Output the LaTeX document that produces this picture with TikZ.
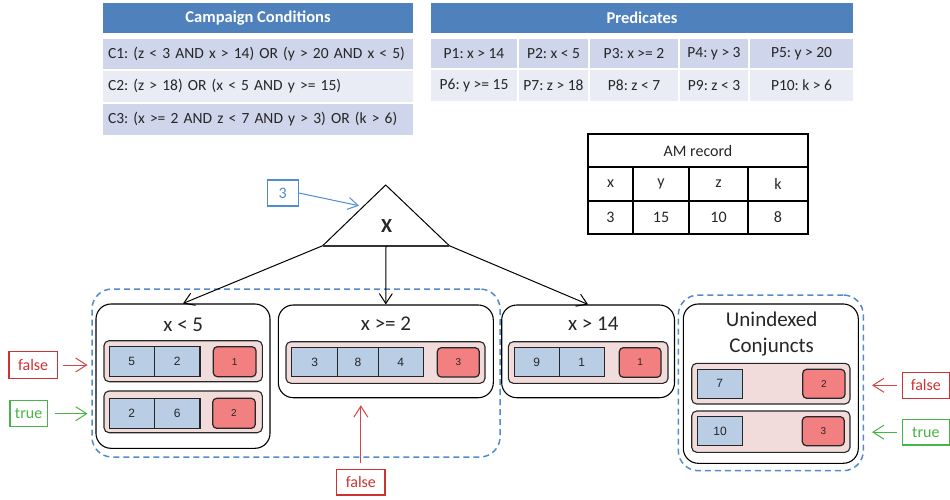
\documentclass[tikz,border=0pt]{standalone}
\usepackage{fontspec}
\setmainfont{Carlito}
\newfontfamily\arialfont{Liberation Sans}
\usetikzlibrary{arrows.meta,calc}
\frenchspacing

\definecolor{hdrblue}{RGB}{79,129,189}
\definecolor{rowdark}{RGB}{207,213,234}
\definecolor{rowlight}{RGB}{233,235,245}
\definecolor{txtgray}{RGB}{38,38,38}
\definecolor{stripfill}{RGB}{242,220,219}
\definecolor{slotblue}{RGB}{185,205,229}
\definecolor{flagred}{RGB}{242,128,128}
\definecolor{dashblue}{RGB}{85,138,200}
\definecolor{falsered}{RGB}{204,51,51}
\definecolor{truegreen}{RGB}{70,180,70}
\definecolor{valblue}{RGB}{80,140,210}

% rectangular node given by its two corners: name, x1, y1, x2, y2, style, text
\newcommand\drawcell[7]{%
  \node[inner sep=0pt, #6, minimum width={(#4)-(#2)}, minimum height={(#5)-(#3)}]
    (#1) at ({((#2)+(#4))/2},{((#3)+(#5))/2}) {#7};}

\tikzset{
  hdr/.style={fill=hdrblue, text=white, font=\fontsize{16.5}{19}\selectfont\bfseries},
  rowA/.style={fill=rowdark, text=txtgray, font=\fontsize{15.5}{18}\selectfont},
  rowB/.style={fill=rowlight, text=txtgray, font=\fontsize{15.5}{18}\selectfont},
  leftcell/.style={text width={#1}, align=left},
  amcell/.style={draw=black, line width=2pt, text=txtgray, font=\fontsize{16}{19}\selectfont},
  card/.style={draw=black, line width=1.1pt, fill=white, rounded corners=15pt},
  group/.style={draw=dashblue, line width=1.5pt, dash pattern=on 6pt off 4pt, rounded corners=20pt},
  strip/.style={draw=black!85, line width=1.1pt, fill=stripfill, rounded corners=5pt},
  slot/.style={draw=black!85, line width=1.2pt, fill=slotblue, text=txtgray, font=\arialfont\fontsize{12}{14}\selectfont},
  flag/.style={draw=black!85, line width=1.2pt, fill=flagred, rounded corners=4pt, text=txtgray, font=\arialfont\fontsize{10}{12}\selectfont},
  cardtitle/.style={text=black!85, font=\fontsize{21}{26}\selectfont, align=center},
  falsebox/.style={draw=falsered, line width=1.1pt, text=falsered, font=\fontsize{16}{18}\selectfont},
  truebox/.style={draw=truegreen, line width=1.1pt, text=truegreen, font=\fontsize{16}{18}\selectfont},
  treearrow/.style={line width=1pt, -{Straight Barb[length=10pt,width=13pt]}},
  sigarrow/.style={line width=1pt, -{Straight Barb[length=11pt,width=14pt]}},
}

\begin{document}
\begin{tikzpicture}[x=1pt, y=-1pt]
\useasboundingbox (0,0) rectangle (950,499);

% ---- campaign conditions table
\drawcell{cch}{103}{3}{413}{33}{hdr}{Campaign Conditions}
\drawcell{cc1}{103}{39}{413}{69}{rowA, leftcell=300pt}{C1: (z < 3 AND x > 14) OR (y > 20 AND x < 5)}
\drawcell{cc2}{103}{71}{413}{102}{rowB, leftcell=300pt}{C2: (z > 18) OR (x < 5 AND y >= 15)}
\drawcell{cc3}{103}{104}{413}{135}{rowA, leftcell=300pt}{C3: (x >= 2 AND z < 7 AND y > 3) OR (k > 6)}

% ---- predicates table
\drawcell{prh}{431}{3}{853}{33}{hdr}{Predicates}
\drawcell{p1}{431}{39}{517}{68}{rowA}{P1: x > 14}
\drawcell{p2}{519}{39}{588}{68}{rowA}{P2: x < 5}
\drawcell{p3}{590}{39}{678}{68}{rowA}{P3: x >= 2}
\drawcell{p4}{680}{39}{748}{68}{rowA}{P4: y > 3}
\drawcell{p5}{750}{39}{853}{68}{rowA}{P5: y > 20}
\drawcell{p6}{431}{70}{517}{101}{rowB}{P6: y >= 15}
\drawcell{p7}{519}{70}{588}{101}{rowB}{P7: z > 18}
\drawcell{p8}{590}{70}{678}{101}{rowB}{P8: z < 7}
\drawcell{p9}{680}{70}{748}{101}{rowB}{P9: z < 3}
\drawcell{p10}{750}{70}{853}{101}{rowB}{P10: k > 6}

% ---- AM record
\drawcell{amh}{588}{134}{808}{167}{amcell}{AM record}
\drawcell{amx}{588}{167}{633}{201}{amcell}{x}
\drawcell{amy}{633}{167}{689}{201}{amcell}{y}
\drawcell{amz}{689}{167}{748}{201}{amcell}{z}
\drawcell{amk}{748}{167}{808}{201}{amcell}{k}
\drawcell{amxv}{588}{201}{633}{234}{amcell}{3}
\drawcell{amyv}{633}{201}{689}{234}{amcell}{15}
\drawcell{amzv}{689}{201}{748}{234}{amcell}{10}
\drawcell{amkv}{748}{201}{808}{234}{amcell}{8}

% ---- index tree root
\coordinate (tA) at (385.7,185);
\coordinate (tL) at (322.7,245.7);
\coordinate (tR) at (449.3,245.7);
\coordinate (tM) at ($(tL)!0.5!(tR)$);
\coordinate (tP) at (359,205.7);
\draw[line width=1pt] (tL) -- (tA) -- (tR);
\draw[line width=1.8pt, black!80] (tL) -- (tR);
\node[font=\fontsize{20}{22}\selectfont\bfseries, text=black!85] (xlbl) at (386.7,226) {X};

\drawcell{val}{267.3}{180}{298.3}{206}{draw=valblue, line width=1.1pt, text=valblue, font=\fontsize{16}{18}\selectfont}{3}
\draw[valblue, line width=1pt, -{Straight Barb[length=10pt,width=12pt]}] (val.east) -- (tP);

% ---- dashed groups
\drawcell{g1}{92}{289}{500}{457}{group}{}
\drawcell{g2}{678.3}{295}{863.3}{470.7}{group}{}

% ---- card x < 5
\drawcell{c1}{96}{304}{270}{448.3}{card}{}
\node[cardtitle] (c1t) at (183.3,325) {x < 5};
\drawcell{s11}{104}{340.7}{262.3}{381.7}{strip}{}
\drawcell{b111}{109.3}{346.7}{154.3}{376.7}{slot}{5}
\drawcell{b112}{154.3}{346.7}{200}{376.7}{slot}{2}
\drawcell{f11}{213.3}{346.7}{256}{376.7}{flag}{1}
\drawcell{s12}{104}{391}{262.3}{432.7}{strip}{}
\drawcell{b121}{109.3}{398.3}{154.3}{428.3}{slot}{2}
\drawcell{b122}{154.3}{398.3}{200}{428.3}{slot}{6}
\drawcell{f12}{212.7}{398.3}{255.3}{428.3}{flag}{2}

% ---- card x >= 2
\drawcell{c2}{278.3}{305}{493.3}{397.7}{card}{}
\node[cardtitle] (c2t) at (386,323.3) {x >= 2};
\drawcell{s21}{286}{341.7}{485}{383.3}{strip}{}
\drawcell{b211}{291.7}{347.7}{337.7}{376.7}{slot}{3}
\drawcell{b212}{337.7}{347.7}{378.3}{376.7}{slot}{8}
\drawcell{b213}{378.3}{347.7}{423.3}{376.7}{slot}{4}
\drawcell{f21}{437.3}{347.7}{479.3}{377}{flag}{3}

% ---- card x > 14
\drawcell{c3}{501.7}{305}{674.5}{397.7}{card}{}
\node[cardtitle] (c3t) at (593.3,323.3) {x > 14};
\drawcell{s31}{508.3}{341.7}{668}{383.3}{strip}{}
\drawcell{b311}{514.3}{347.7}{559.3}{376.7}{slot}{9}
\drawcell{b312}{559.3}{347.7}{604.3}{376.7}{slot}{1}
\drawcell{f31}{619.3}{347.7}{661}{377.3}{flag}{1}

% ---- unindexed conjuncts
\drawcell{c4}{683.3}{304}{858.3}{463.3}{card}{}
\node[cardtitle] (c4t) at (771.7,333.7) {Unindexed\\Conjuncts};
\drawcell{s41}{691.7}{363.3}{850}{404}{strip}{}
\drawcell{b411}{697.3}{369.3}{742.3}{398.3}{slot}{7}
\drawcell{f41}{802.7}{369.3}{845}{398.3}{flag}{2}
\drawcell{s42}{691.7}{411}{850}{452.3}{strip}{}
\drawcell{b421}{697.3}{416.7}{742.7}{445.7}{slot}{10}
\drawcell{f42}{802.3}{416.7}{844.3}{445.7}{flag}{3}

% ---- tree edges
\draw[treearrow] (tL) -- (c1.north);
\draw[treearrow] (tM) -- (c2.north);
\draw[treearrow] (tR) -- (c3.north);

% ---- evaluation results
\drawcell{lf}{9}{351.7}{57.3}{378.3}{falsebox}{false}
\drawcell{lt}{10}{400.7}{47.3}{426.7}{truebox}{true}
\drawcell{bf}{336.7}{469.3}{385}{495}{falsebox}{false}
\drawcell{rf}{902.3}{372.3}{949.3}{398.3}{falsebox}{false}
\drawcell{rt}{902.3}{419.3}{949.3}{445}{truebox}{true}

\draw[sigarrow, falsered!90!white, shorten <=5pt, shorten >=3.7pt] (lf.east) -- (lf.east -| g1.west);
\draw[sigarrow, truegreen, shorten <=6.7pt, shorten >=3.7pt] (lt.east) -- (lt.east -| g1.west);
\draw[sigarrow, falsered!90!white, shorten <=6pt, shorten >=7pt] (bf.north) -- (bf.north |- c2.south);
\draw[sigarrow, falsered!90!white, shorten <=4.6pt, shorten >=8pt] (rf.west) -- (rf.west -| g2.east);
\draw[sigarrow, truegreen, shorten <=4.6pt, shorten >=8pt] (rt.west) -- (rt.west -| g2.east);
\end{tikzpicture}
\end{document}
